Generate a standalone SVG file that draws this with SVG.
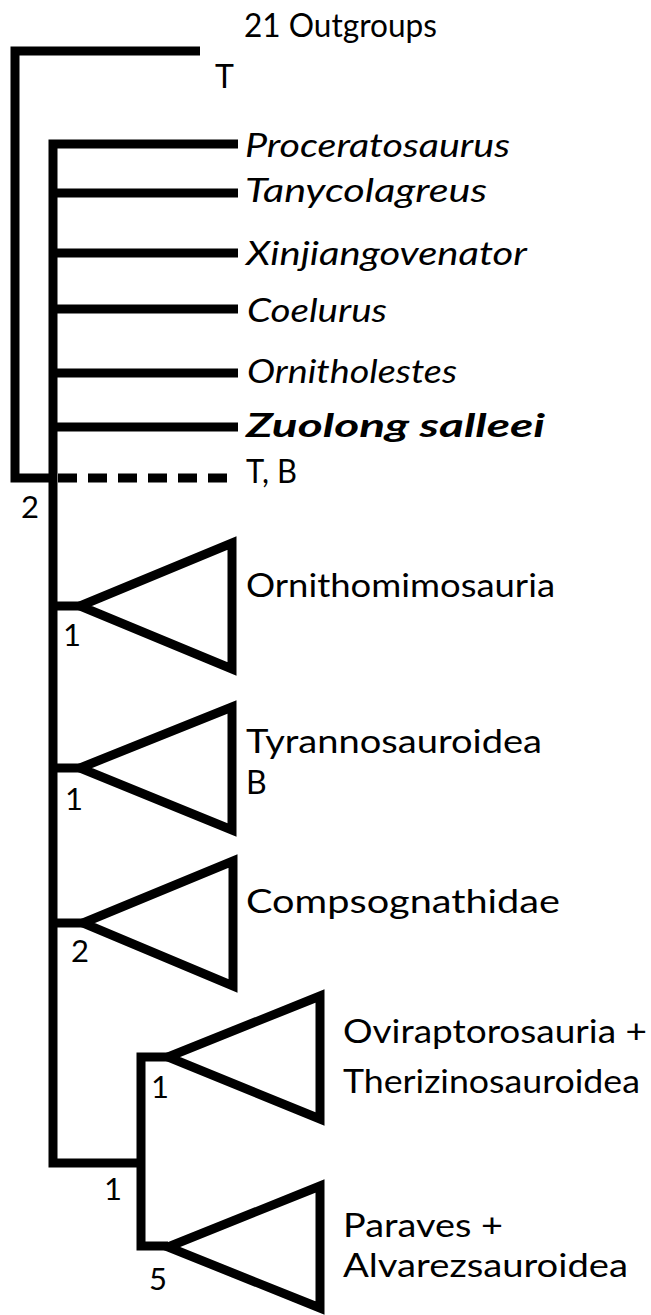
<svg xmlns="http://www.w3.org/2000/svg" width="651" height="1315" viewBox="0 0 651 1315">
<style>
.ln{fill:none;stroke:#000;stroke-width:9;stroke-linecap:butt;stroke-linejoin:miter;stroke-miterlimit:10}
.dash{stroke-dasharray:19 11}
.tri{fill:#fff;stroke:#000;stroke-width:9;stroke-linejoin:miter;stroke-miterlimit:10}
text{font-family:Lato,"DejaVu Sans",sans-serif;font-size:32px;fill:#000}
.it{font-style:italic}
.bi{font-style:italic;font-weight:bold}
.num{font-size:31px}
</style>
<rect width="651" height="1315" fill="#fff"/>
<g id="connectors">
<path class="ln" d="M200,51 H15 V478 H53"/>
<path class="ln" d="M238,144 H53 V1163 H141"/>
<path class="ln" d="M53,193 H238 M53,253 H238 M53,309 H238 M53,373 H238 M53,427 H238"/>
<path class="ln dash" d="M58,478 H228"/>
<path class="ln" d="M53,606 H80 M53,768 H80 M53,923 H83"/>
<path class="ln" d="M168,1057 H141 V1246 H168"/>
</g>
<g id="outgroups"><text x="244" y="37" textLength="193" lengthAdjust="spacingAndGlyphs">21 Outgroups</text><text x="215" y="88">T</text></g>
<g id="proceratosaurus"><text class="it" x="245" y="157" textLength="265" lengthAdjust="spacingAndGlyphs">Proceratosaurus</text></g>
<g id="tanycolagreus"><text class="it" x="245" y="202" textLength="242" lengthAdjust="spacingAndGlyphs">Tanycolagreus</text></g>
<g id="xinjiangovenator"><text class="it" x="246" y="265" textLength="281" lengthAdjust="spacingAndGlyphs">Xinjiangovenator</text></g>
<g id="coelurus"><text class="it" x="247" y="322" textLength="140" lengthAdjust="spacingAndGlyphs">Coelurus</text></g>
<g id="ornitholestes"><text class="it" x="247" y="383" textLength="210" lengthAdjust="spacingAndGlyphs">Ornitholestes</text></g>
<g id="zuolong"><text class="bi" x="246" y="437" textLength="299" lengthAdjust="spacingAndGlyphs">Zuolong salleei</text></g>
<g id="tb"><text x="246" y="483" textLength="51" lengthAdjust="spacingAndGlyphs">T, B</text><text class="num" x="21" y="518">2</text></g>
<g id="ornithomimosauria"><polygon class="tri" points="80,606 232,543 232,669"/><text x="246" y="597" textLength="309" lengthAdjust="spacingAndGlyphs">Ornithomimosauria</text><text class="num" x="63" y="646">1</text></g>
<g id="tyrannosauroidea"><polygon class="tri" points="80,768 232,707 232,830"/><text x="246" y="753" textLength="296" lengthAdjust="spacingAndGlyphs">Tyrannosauroidea</text><text x="246" y="794">B</text><text class="num" x="65" y="810">1</text></g>
<g id="compsognathidae"><polygon class="tri" points="83,923 233,861 233,986"/><text x="246" y="913" textLength="314" lengthAdjust="spacingAndGlyphs">Compsognathidae</text><text class="num" x="71" y="962">2</text></g>
<g id="oviraptorosauria"><polygon class="tri" points="168,1057 320,996 320,1119"/><text x="343" y="1043" textLength="304" lengthAdjust="spacingAndGlyphs">Oviraptorosauria +</text><text x="343" y="1093" textLength="297" lengthAdjust="spacingAndGlyphs">Therizinosauroidea</text><text class="num" x="151" y="1098">1</text></g>
<g id="paraves"><polygon class="tri" points="168,1247 320,1186 320,1308"/><text x="343" y="1237" textLength="160" lengthAdjust="spacingAndGlyphs">Paraves +</text><text x="343" y="1277" textLength="285" lengthAdjust="spacingAndGlyphs">Alvarezsauroidea</text><text class="num" x="149" y="1290">5</text></g>
<g id="node-paravian"><text class="num" x="104" y="1200">1</text></g>
</svg>
